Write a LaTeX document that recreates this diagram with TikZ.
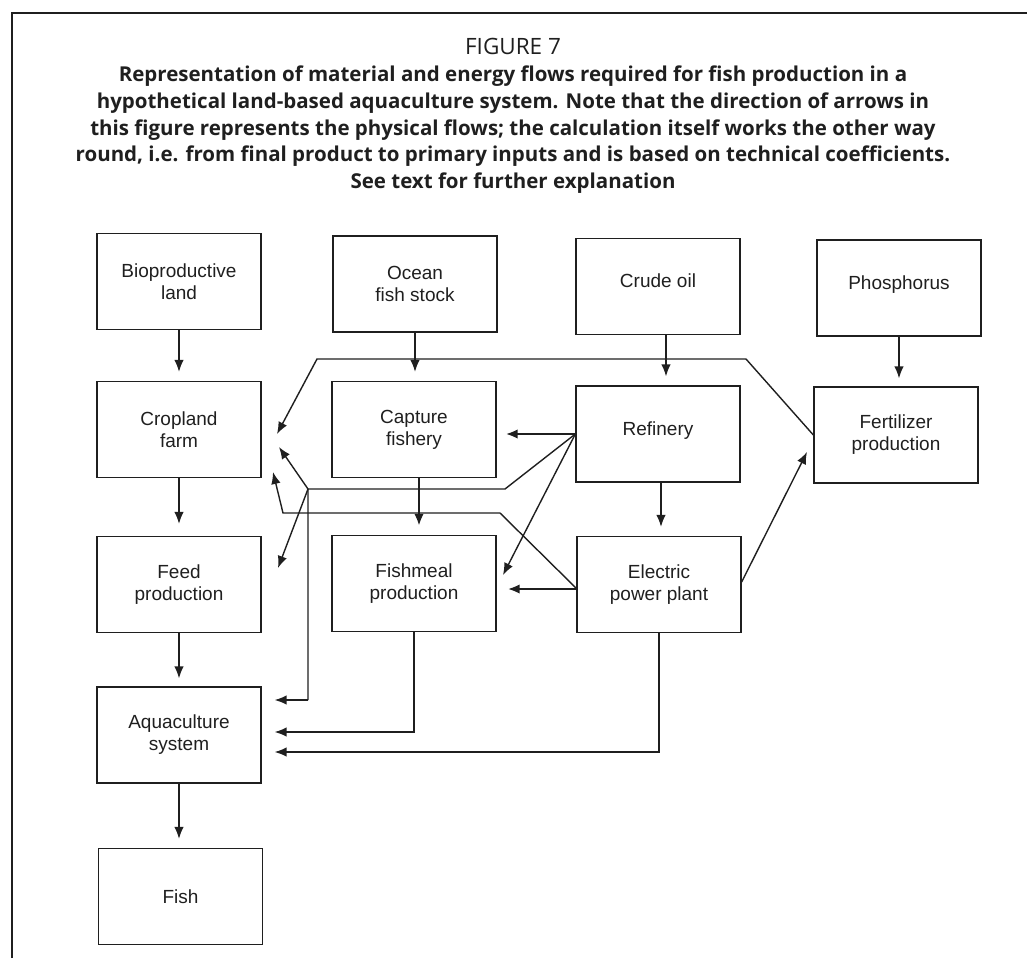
\documentclass[tikz,border=0pt]{standalone}
\usepackage{fontspec}
\setmainfont{Liberation Sans}
\newfontfamily\titlefont{Open Sans}
\usetikzlibrary{arrows.meta}

\definecolor{fl-LineColor}{rgb}{0.12,0.12,0.12}
\tikzstyle{fl-box}=[rectangle,
                    draw=fl-LineColor,
                    line width=1.3pt,
                    text=fl-LineColor,
                    align=center,
                    minimum width=164pt,
                    minimum height=96pt,
                    font=\fontsize{19}{22}\selectfont
                   ]
\tikzstyle{fl-single}=[fl-box, text height=14pt, text depth=12pt]
\tikzstyle{fl-line}=[draw=fl-LineColor, line width=1.4pt]
\tikzstyle{fl-arrow}=[fl-line, -{Latex[length=12pt,width=9.5pt]}]
\tikzstyle{fl-heavy}=[fl-arrow, line width=2.4pt]

\begin{document}
\begin{tikzpicture}[x=1pt, y=-1pt]
    \useasboundingbox (0,0) rectangle (1027,958);

    % Frame and caption
    % --------------------------------------------------------------------------
    \draw[fl-line, line width=1.1pt] (12,958) -- (12,13) -- (1027,13);
    \node at (513, 116) (caption) [align=center, text=fl-LineColor,
                                   font=\titlefont\fontsize{20.5}{26.8}\selectfont]
        {{\fontsize{22.5}{26.8}\selectfont FIGURE 7}\\
         \textbf{Representation of material and energy flows required for fish production in a}\\
         \textbf{hypothetical land-based aquaculture system. Note that the direction of arrows in}\\
         \textbf{this figure represents the physical flows; the calculation itself works the other way}\\
         \textbf{round, i.e. from final product to primary inputs and is based on technical coefficients.}\\
         \textbf{See text for further explanation}};

    % Primary inputs
    % --------------------------------------------------------------------------
    \node at (179, 281.5) (bioland) [fl-box]    {Bioproductive\\land};
    \node at (415, 284)   (ocean)   [fl-box]    {Ocean\\fish stock};
    \node at (658, 286.5) (crude)   [fl-single] {Crude oil};
    \node at (899, 288)   (phos)    [fl-single] {Phosphorus};

    % Processes
    % --------------------------------------------------------------------------
    \node at (179, 429.5) (cropland)   [fl-box]    {Cropland\\farm};
    \node at (414, 429.5) (capture)    [fl-box]    {Capture\\fishery};
    \node at (658, 434)   (refinery)   [fl-single] {Refinery};
    \node at (896, 435)   (fertilizer) [fl-box]    {Fertilizer\\production};

    \node at (179, 584.5) (feed)       [fl-box] {Feed\\production};
    \node at (414, 583.5) (fishmeal)   [fl-box] {Fishmeal\\production};
    \node at (659, 584.5) (power)      [fl-box] {Electric\\power plant};

    \node at (179, 735)   (aqua)       [fl-box] {Aquaculture\\system};
    \node at (180.5, 896.5) (fish)     [fl-box] {Fish};

    % Bends and loose arrow ends
    % --------------------------------------------------------------------------
    \coordinate (fert_r)     at (746, 359);
    \coordinate (fert_l)     at (317, 359);
    \coordinate (crop_in1)   at (277, 434);
    \coordinate (crop_in2)   at (279, 447);
    \coordinate (crop_in3)   at (273, 472);
    \coordinate (feed_in)    at (278, 568);
    \coordinate (meal_in)    at (503, 575);
    \coordinate (ref_bend)   at (505, 489);
    \coordinate (ref_split)  at (308, 489);
    \coordinate (ref_down)   at (308, 700);
    \coordinate (pow_out)    at (577, 589);
    \coordinate (pow_bend_r) at (500, 513);
    \coordinate (pow_bend_l) at (283, 513);
    \coordinate (fert_in)    at (807, 452);
    \coordinate (meal_down)  at (414, 732);
    \coordinate (pow_down)   at (659, 752);

    % Arrows
    % --------------------------------------------------------------------------
    \draw[fl-arrow, shorten >=9pt] (bioland) -- (cropland);
    \draw[fl-arrow, shorten >=9pt] (ocean.south) -- (ocean.south |- capture.north);
    \draw[fl-arrow, shorten >=9pt] ([xshift=8pt]crude.south) -- ([xshift=8pt]refinery.north);
    \draw[fl-arrow, shorten >=8pt] (phos.south) -- (phos.south |- fertilizer.north);

    \draw[fl-arrow, shorten >=12pt] (cropland) -- (feed);
    \draw[fl-heavy, shorten >=9pt] ([xshift=5pt]capture.south) -- ([xshift=5pt]capture.south |- fishmeal.north);
    \draw[fl-arrow, shorten >=9pt] ([xshift=3pt]refinery.south) -- ([xshift=3pt]refinery.south |- power.north);

    \draw[fl-arrow, shorten >=8pt] (feed) -- (aqua);
    \draw[fl-arrow, shorten >=9pt] (aqua.south) -- (aqua.south |- fish.north);

    \draw[fl-arrow] (fertilizer.west) -- (fert_r) -- (fert_l) -- (crop_in1);

    \draw[fl-heavy, shorten >=9pt] (refinery.west) -- (refinery.west -| capture.east);
    \draw[fl-arrow] (refinery.west) -- (meal_in);
    \draw[fl-line]  (refinery.west) -- (ref_bend) -- (ref_split) -- (ref_down);
    \draw[fl-arrow] (ref_split) -- (crop_in2);
    \draw[fl-arrow] (ref_split) -- (feed_in);
    \draw[fl-arrow, shorten >=13pt] (ref_down) -- (ref_down -| aqua.east);

    \draw[fl-heavy, shorten >=11pt] (pow_out) -- (pow_out -| fishmeal.east);
    \draw[fl-arrow] (pow_out) -- (pow_bend_r) -- (pow_bend_l) -- (crop_in3);
    \draw[fl-arrow] ([yshift=2.5pt]power.east) -- (fert_in);

    \draw[fl-arrow, shorten >=13pt] (fishmeal.south) -- (meal_down) -- (meal_down -| aqua.east);
    \draw[fl-arrow, shorten >=13pt] (power.south) -- (pow_down) -- (pow_down -| aqua.east);

\end{tikzpicture}
\end{document}
